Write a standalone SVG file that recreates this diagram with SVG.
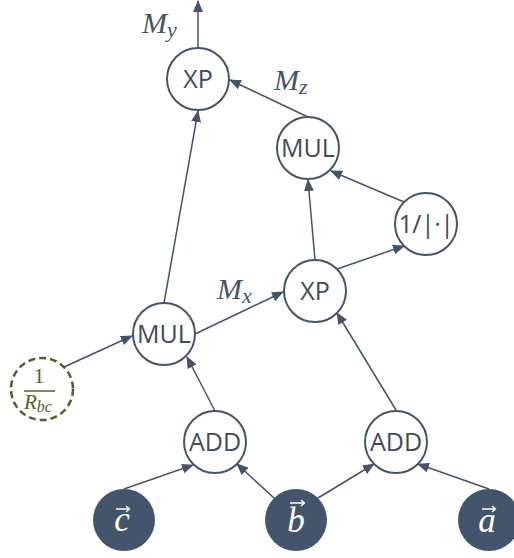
<svg xmlns="http://www.w3.org/2000/svg" width="514" height="558" viewBox="0 0 514 558">
<style>
.n{fill:#fff;stroke:#44546A;stroke-width:2}
.d{fill:#44546A;stroke:none}
.lbl{font-family:"Open Sans","Liberation Sans",sans-serif;font-size:25px;fill:#3E4C60;text-anchor:middle}
.m{font-family:"Liberation Serif",serif;font-style:italic;fill:#44546A}
.v{font-family:"Liberation Serif",serif;font-style:italic;font-size:35px;fill:#fff;text-anchor:middle}
.va{stroke:#fff;stroke-width:1.3;fill:none}
.c line{stroke:#44546A;stroke-width:1.5;marker-end:url(#ah)}
</style>
<defs>
<marker id="ah" markerUnits="userSpaceOnUse" markerWidth="12" markerHeight="10" viewBox="0 0 12 10" refX="11" refY="5" orient="auto">
<path d="M0,0 L12,5 L0,10 Z" fill="#44546A"/>
</marker>
</defs>
<rect width="514" height="558" fill="#fff"/>
<g id="connectors" class="c">
<line x1="198" y1="48" x2="198" y2="1"/>
<line x1="308" y1="117" x2="230" y2="80"/>
<line x1="164" y1="303" x2="198" y2="111"/>
<line x1="315" y1="260" x2="308" y2="180"/>
<line x1="337" y1="269" x2="404" y2="246"/>
<line x1="404" y1="202" x2="331" y2="171"/>
<line x1="195" y1="334" x2="283" y2="292"/>
<line x1="64" y1="367" x2="132" y2="336"/>
<line x1="215" y1="411" x2="187" y2="357"/>
<line x1="396" y1="410" x2="337" y2="313"/>
<line x1="124" y1="489" x2="193" y2="465"/>
<line x1="274" y1="498" x2="237" y2="464"/>
<line x1="318" y1="498" x2="374" y2="464"/>
<line x1="489" y1="489" x2="418" y2="464"/>
</g>
<g id="labels">
<text class="m" x="142" y="33" font-size="30">M<tspan font-size="22" dy="4">y</tspan></text>
<text class="m" x="274" y="90" font-size="30">M<tspan font-size="22" dy="4">z</tspan></text>
<text class="m" x="217" y="299" font-size="30">M<tspan font-size="22" dy="4">x</tspan></text>
</g>
<g id="xp-top"><circle class="n" cx="198" cy="79" r="31"/><text class="lbl" x="198" y="88">XP</text></g>
<g id="mul-top"><circle class="n" cx="308" cy="148" r="31"/><text class="lbl" x="308" y="157">MUL</text></g>
<g id="inv-norm"><circle class="n" cx="426" cy="224" r="31"/><text class="lbl" x="426" y="233" font-size="24" letter-spacing="-0.5">1/|·|</text></g>
<g id="xp-mid"><circle class="n" cx="315" cy="291" r="31"/><text class="lbl" x="315" y="300">XP</text></g>
<g id="mul-left"><circle class="n" cx="164" cy="334" r="31"/><text class="lbl" x="164" y="343">MUL</text></g>
<g id="inv-rbc">
<circle cx="42" cy="389" r="31" fill="#fff" stroke="#4F6228" stroke-width="2.5" stroke-dasharray="7,4"/>
<text x="39" y="383" font-family="Liberation Serif,serif" font-size="22" fill="#4F6228" text-anchor="middle">1</text>
<line x1="24" y1="391" x2="55" y2="391" stroke="#4F6228" stroke-width="1.5"/>
<text x="24" y="409" font-family="Liberation Serif,serif" font-style="italic" font-size="21" fill="#4F6228">R<tspan font-size="16" dy="3">bc</tspan></text>
</g>
<g id="add-left"><circle class="n" cx="215" cy="442" r="31"/><text class="lbl" x="215" y="451">ADD</text></g>
<g id="add-right"><circle class="n" cx="396" cy="442" r="31"/><text class="lbl" x="396" y="451">ADD</text></g>
<g id="vec-c"><circle class="d" cx="124" cy="520" r="31"/><text class="v" x="122" y="531">c</text><path class="va" d="M116,509 H129 M126,506 L129.5,509 L126,512"/></g>
<g id="vec-b"><circle class="d" cx="296" cy="520" r="31"/><text class="v" x="296" y="532">b</text><path class="va" d="M290,503 H304 M301,500 L304.5,503 L301,506"/></g>
<g id="vec-a"><circle class="d" cx="489" cy="520" r="31"/><text class="v" x="487" y="532">a</text><path class="va" d="M482,509 H495 M492,506 L495.5,509 L492,512"/></g>
</svg>
